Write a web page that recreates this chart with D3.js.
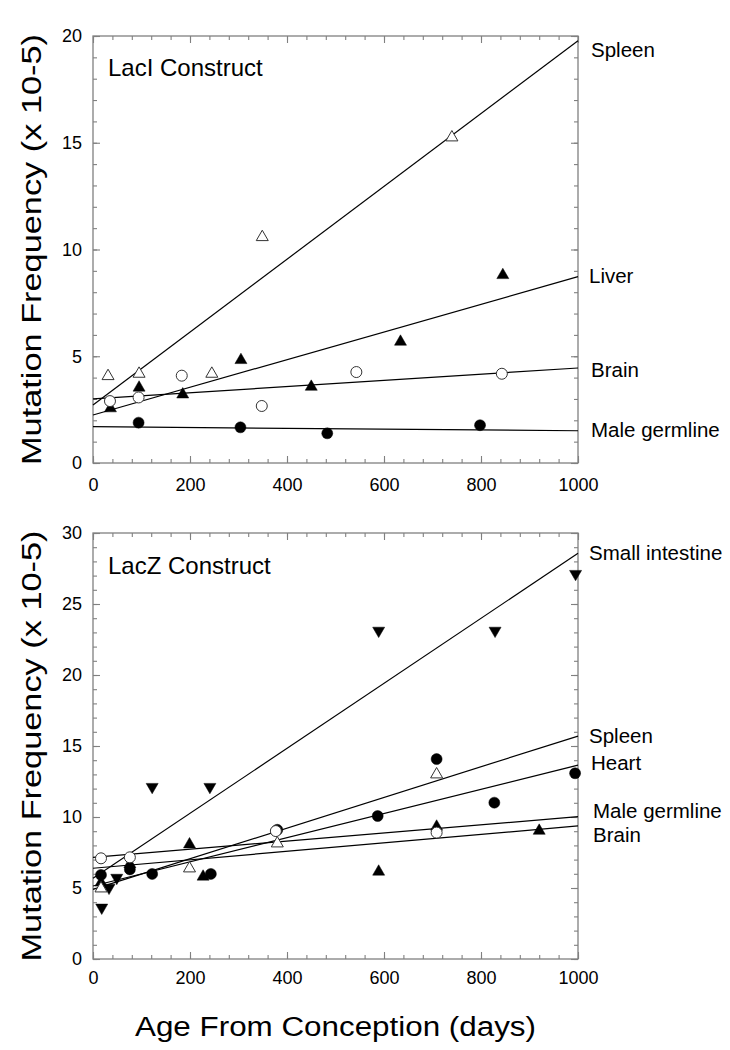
<!DOCTYPE html>
<html><head><meta charset="utf-8">
<script src="https://cdn.jsdelivr.net/npm/d3@7"></script>
<style>
body{margin:0;background:#fff}
text{font-family:"Liberation Sans",Arial,Helvetica,sans-serif;fill:#000}
</style>
</head><body>
<svg id="chart" width="730" height="1050"></svg>
<script>
// ---------- data ----------
const xTickValues = [0, 200, 400, 600, 800, 1000];
const topYTickValues = [0, 5, 10, 15, 20];
const bottomYTickValues = [0, 5, 10, 15, 20, 25, 30];

// LacI construct (top panel)  [age days, mutation frequency]
const lacISpleen = [[31,4.15],[95,4.26],[245,4.26],[349,10.66],[740,15.33]];
const lacILiver  = [[36,2.64],[95,3.61],[185,3.29],[305,4.9],[450,3.65],[634,5.76],[845,8.88]];
const lacIBrain  = [[35,2.9],[94,3.07],[183,4.09],[348,2.67],[543,4.26],[843,4.18]];
const lacIGerm   = [[94,1.89],[304,1.67],[483,1.39],[798,1.77]];
// fitted line values at age 0 and 1000
const lacIFitSpleen = [2.72, 19.78];
const lacIFitLiver  = [2.25, 8.73];
const lacIFitBrain  = [3.0, 4.45];
const lacIFitGerm   = [1.70, 1.51];

// LacZ construct (bottom panel)
const lacZSmallInt = [[18,3.5],[33,4.9],[49,5.6],[122,12],[241,12],[589,23],[829,23],[995,27]];
const lacZSpleen   = [[16.5,5.09],[199,6.5],[380,8.26],[708.5,13.12]];
const lacZHeart    = [[16.5,5.92],[76,6.31],[122,5.99],[243,5.99],[380,9.1],[587,10.07],[708.5,14.08],[827.5,11.01],[994,13.08]];
const lacZGerm     = [[16.5,7.09],[76,7.16],[377,9.01],[708.5,8.9]];
const lacZBrain    = [[16.5,5.5],[76,6.8],[199,8.19],[227,5.92],[589,6.27],[708.5,9.44],[920,9.15]];
const lacZFitSmallInt = [5.68, 28.57];
const lacZFitSpleen   = [4.9, 15.7];
const lacZFitHeart    = [5.14, 13.65];
const lacZFitGerm     = [7.16, 10.02];
const lacZFitBrain    = [6.39, 9.37];

// ---------- layout ----------
const svg = d3.select("#chart");
const left = 93, right = 578;
const x = d3.scaleLinear().domain([0, 1000]).range([left, right]);
const axisColor = "#808080";

const panels = [
  { top: 36, bottom: 463, yMax: 20, yTicks: topYTickValues, xPad: 15,
    title: "LacI Construct", titleY: 76,
    fits: [lacIFitSpleen, lacIFitLiver, lacIFitBrain, lacIFitGerm],
    series: [[lacISpleen, "triOpen"], [lacILiver, "triFilled"], [lacIBrain, "circOpen"], [lacIGerm, "circFilled"]],
    labels: [["Spleen", 591, 57], ["Liver", 589, 283], ["Brain", 591, 377], ["Male germline", 591, 437]] },
  { top: 533, bottom: 959, yMax: 30, yTicks: bottomYTickValues, xPad: 12,
    title: "LacZ Construct", titleY: 574,
    fits: [lacZFitSmallInt, lacZFitSpleen, lacZFitHeart, lacZFitGerm, lacZFitBrain],
    series: [[lacZBrain, "triFilled"], [lacZSmallInt, "triDown"], [lacZHeart, "circFilled"], [lacZSpleen, "triOpen"], [lacZGerm, "circOpen"]],
    labels: [["Small intestine", 589, 560], ["Spleen", 589, 743], ["Heart", 591, 770], ["Male germline", 593, 818], ["Brain", 593, 842]] }
];

function markerPath(type) {
  const w = 12, h = 10.4;
  if (type === "triDown") return `M${-w/2},${-h/2}L${w/2},${-h/2}L0,${h/2}Z`;
  return `M0,${-h/2}L${w/2},${h/2}L${-w/2},${h/2}Z`;
}

panels.forEach(p => {
  const y = d3.scaleLinear().domain([0, p.yMax]).range([p.bottom, p.top]);
  const g = svg.append("g");

  const minorX = d3.range(0, 1001, 40);
  const minorY = d3.range(0, p.yMax + 0.001, 1);
  const styleAxis = sel => {
    sel.select(".domain").remove();
    sel.selectAll("line").attr("stroke", axisColor).attr("stroke-width", 1.1);
  };
  g.append("g").attr("transform", `translate(0,${p.bottom})`)
    .call(d3.axisBottom(x).tickValues(minorX).tickSize(-4).tickFormat("")).call(styleAxis);
  g.append("g").attr("transform", `translate(0,${p.top})`)
    .call(d3.axisTop(x).tickValues(minorX).tickSize(-4).tickFormat("")).call(styleAxis);
  g.append("g").attr("transform", `translate(${left},0)`)
    .call(d3.axisLeft(y).tickValues(minorY).tickSize(-4).tickFormat("")).call(styleAxis);
  g.append("g").attr("transform", `translate(${right},0)`)
    .call(d3.axisRight(y).tickValues(minorY).tickSize(-4).tickFormat("")).call(styleAxis);

  const bx = g.append("g").attr("transform", `translate(0,${p.bottom})`)
    .call(d3.axisBottom(x).tickValues(xTickValues).tickSize(-7).tickPadding(p.xPad).tickFormat(d3.format("d")))
    .call(styleAxis);
  bx.selectAll("text").attr("font-size", 18).attr("font-family", null).attr("fill", "#000");
  g.append("g").attr("transform", `translate(0,${p.top})`)
    .call(d3.axisTop(x).tickValues(xTickValues).tickSize(-7).tickFormat("")).call(styleAxis);
  const ly = g.append("g").attr("transform", `translate(${left},0)`)
    .call(d3.axisLeft(y).tickValues(p.yTicks).tickSize(-7).tickPadding(11).tickFormat(d3.format("d")))
    .call(styleAxis);
  ly.selectAll("text").attr("font-size", 18).attr("font-family", null).attr("fill", "#000");
  g.append("g").attr("transform", `translate(${right},0)`)
    .call(d3.axisRight(y).tickValues(p.yTicks).tickSize(-7).tickFormat("")).call(styleAxis);

  g.append("rect").attr("x", left).attr("y", p.top)
    .attr("width", right - left).attr("height", p.bottom - p.top)
    .attr("fill", "none").attr("stroke", axisColor).attr("stroke-width", 1.3);

  const line = d3.line().x(d => x(d[0])).y(d => y(d[1]));
  p.fits.forEach(f => {
    g.append("path").attr("d", line([[0, f[0]], [1000, f[1]]]))
      .attr("fill", "none").attr("stroke", "#000").attr("stroke-width", 1.2);
  });

  p.series.forEach(([data, type]) => {
    const isCircle = type.startsWith("circ");
    const open = type.endsWith("Open");
    const sel = g.append("g").selectAll("*").data(data).enter();
    let m;
    if (isCircle) {
      m = sel.append("circle").attr("cx", d => x(d[0])).attr("cy", d => y(d[1])).attr("r", 5.5);
    } else {
      m = sel.append("path").attr("d", markerPath(type))
        .attr("transform", d => `translate(${x(d[0])},${y(d[1])})`);
    }
    if (open) m.attr("fill", "#fff").attr("stroke", "#333").attr("stroke-width", 1);
    else m.attr("fill", "#000").attr("stroke", "#000").attr("stroke-width", 0.5);
  });

  g.append("text").attr("x", 108).attr("y", p.titleY).attr("font-size", 24).text(p.title);

  p.labels.forEach(([t, lx, lyy]) => {
    g.append("text").attr("x", lx).attr("y", lyy).attr("font-size", 20.5).text(t);
  });

  const cy = (p.top + p.bottom) / 2;
  g.append("text")
    .attr("transform", `translate(41,${cy}) rotate(-90)`)
    .attr("text-anchor", "middle").attr("font-size", 27)
    .attr("textLength", 431).attr("lengthAdjust", "spacingAndGlyphs")
    .text("Mutation Frequency (x 10-5)");
});

svg.append("text").attr("x", (left + right) / 2).attr("y", 1036)
  .attr("text-anchor", "middle").attr("font-size", 27)
  .attr("textLength", 401).attr("lengthAdjust", "spacingAndGlyphs")
  .text("Age From Conception (days)");
</script>
</body></html>
